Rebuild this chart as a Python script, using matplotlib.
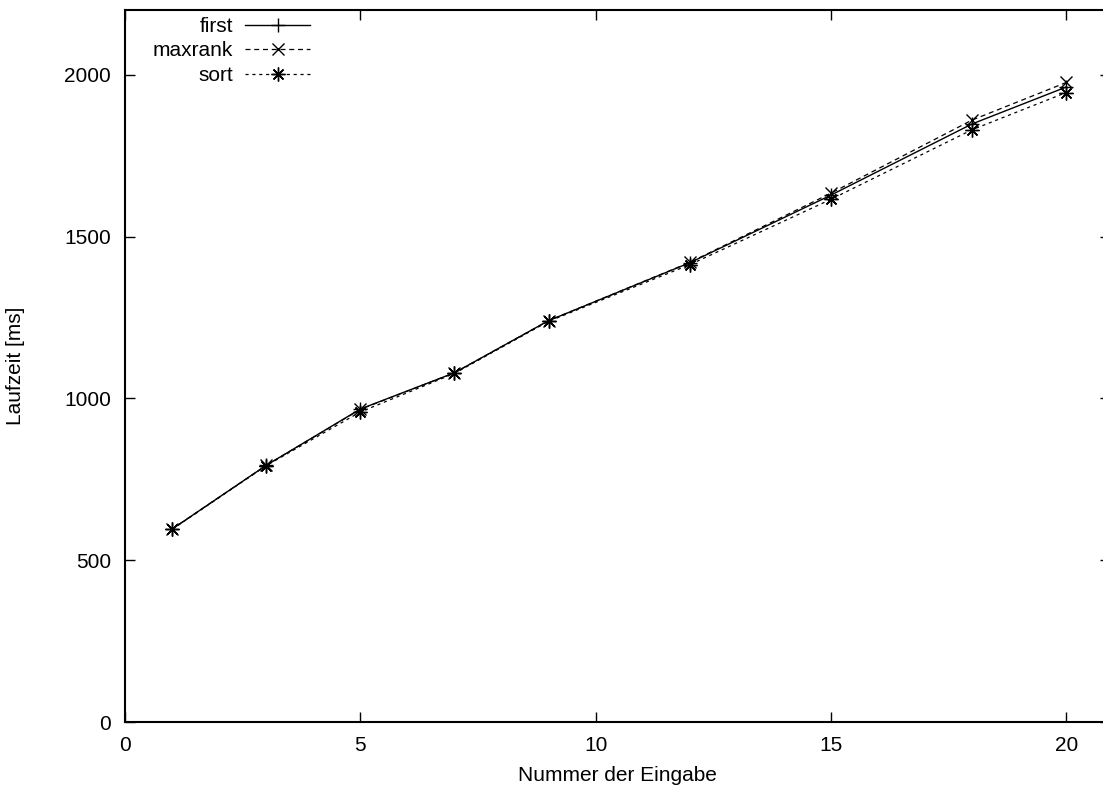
import numpy as np
import matplotlib
matplotlib.use("Agg")
import matplotlib.pyplot as plt

plt.rcParams['font.family'] = ['Liberation Sans', 'DejaVu Sans']
plt.rcParams['font.size'] = 15

# Messwerte
eingabe = [1, 3, 5, 7, 9, 12, 15, 18, 20]
first = [596, 793, 967, 1079, 1240, 1419, 1628, 1848, 1962]
maxrank = [596, 793, 966, 1079, 1240, 1420, 1634, 1860, 1976]
sort = [595, 792, 958, 1077, 1238, 1413, 1615, 1830, 1945]

fig = plt.figure(figsize=(11.03, 7.93), dpi=100)
ax = fig.add_axes([125 / 1103, 71 / 793, 985 / 1103, 712 / 793])

ax.plot(eingabe, first, color='black', lw=1.0, marker='+', ms=10, mew=1.0,
        label='first')
ax.plot(eingabe, maxrank, color='black', lw=0.9, ls=(0, (4, 3)), marker='x',
        ms=8, mew=1.0, label='maxrank')
ax.plot(eingabe, sort, color='black', lw=0.9, ls=(0, (2.5, 3)),
        marker=(8, 2, 0), ms=10, mew=1.0, label='sort')

ax.set_xlim(0, 20.93)
ax.set_ylim(0, 2200)
ax.set_xticks([0, 5, 10, 15, 20])
ax.set_yticks([0, 500, 1000, 1500, 2000])
ax.tick_params(direction='in', length=7.5, width=1.0, top=True, right=True,
               pad=10)
for s in ax.spines.values():
    s.set_linewidth(1.5)

ax.set_xlabel('Nummer der Eingabe', labelpad=8)
ax.set_ylabel('Laufzeit [ms]', labelpad=28)

ax.legend(loc='upper left', bbox_to_anchor=(0.0152, 1.008), frameon=False,
          markerfirst=False, handlelength=3.1, handletextpad=0.6,
          labelspacing=0.27, borderaxespad=0.2)

fig.savefig('out.png', dpi=100)
